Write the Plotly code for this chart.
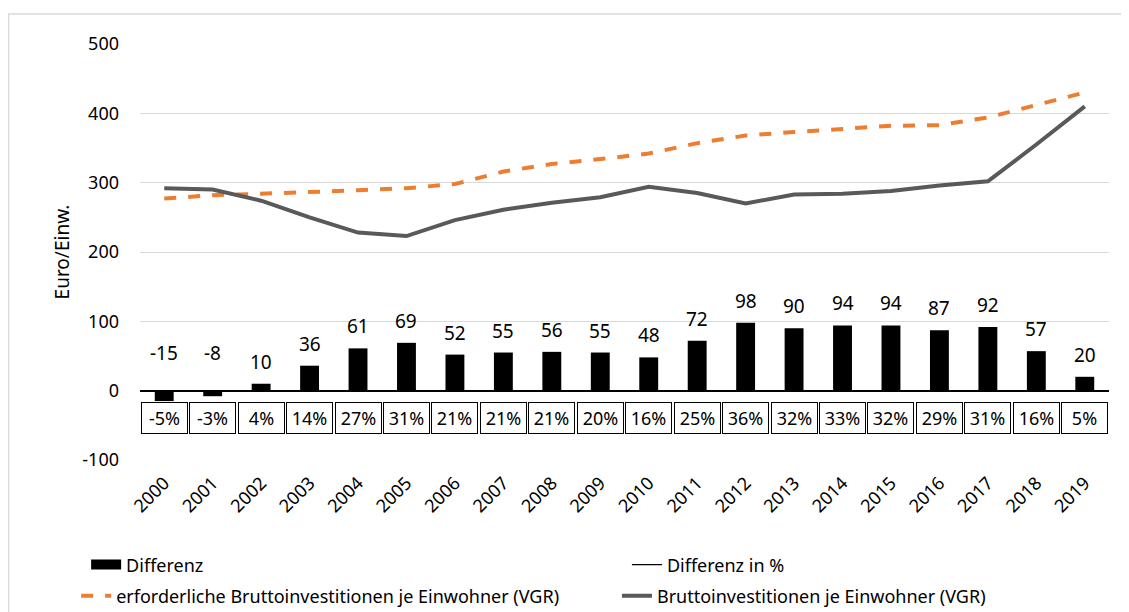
import plotly.graph_objects as go

years = [str(y) for y in range(2000, 2020)]
brutto = [292, 290, 274, 250, 228, 223, 246, 261, 271, 279, 294, 285, 270, 283, 284, 288, 296, 302, 355, 410]
erforderlich = [277, 282, 284, 286, 289, 292, 298, 316, 327, 334, 342, 357, 368, 373, 378, 382, 383, 394, 412, 430]
differenz = [-15, -8, 10, 36, 61, 69, 52, 55, 56, 55, 48, 72, 98, 90, 94, 94, 87, 92, 57, 20]
differenz_pct = ["-5%", "-3%", "4%", "14%", "27%", "31%", "21%", "21%", "21%", "20%", "16%", "25%",
                 "36%", "32%", "33%", "32%", "29%", "31%", "16%", "5%"]
y_ticks = [-100, 0, 100, 200, 300, 400, 500]
y_tick_labels = ["-100", "0", "100", "200", "300", "400", "500"]

FONT = "Noto Sans, Open Sans, sans-serif"
PCT_ROW_Y = -40

fig = go.Figure()
fig.add_trace(go.Bar(x=years, y=differenz, name="Differenz", marker=dict(color="black", line=dict(width=0)),
                     width=0.39, showlegend=False))
fig.add_trace(go.Scatter(x=[None], y=[None], mode="lines", name="Differenz",
                         line=dict(color="black", width=13), legend="legend"))
fig.add_trace(go.Scatter(x=[None], y=[None], mode="lines", name="Differenz in %",
                         line=dict(color="black", width=1.3), legend="legend2"))
fig.add_trace(go.Scatter(x=years, y=erforderlich, mode="lines",
                         name="erforderliche Bruttoinvestitionen je Einwohner (VGR)",
                         line=dict(color="#ED7D31", width=4, dash="dash"), legend="legend3"))
fig.add_trace(go.Scatter(x=years, y=brutto, mode="lines", name="Bruttoinvestitionen je Einwohner (VGR)",
                         line=dict(color="#595959", width=4), legend="legend4"))

annotations = []
for i, v in enumerate(differenz):
    annotations.append(dict(x=i, y=max(v, 0), text=str(v), showarrow=False,
                            yshift=22 if v >= 0 else 38,
                            font=dict(size=19, color="#000000", family=FONT)))
for i, p in enumerate(differenz_pct):
    annotations.append(dict(x=i, y=PCT_ROW_Y, text=p, showarrow=False, width=43, height=28,
                            bordercolor="#000000", borderwidth=1, borderpad=1, bgcolor="white",
                            font=dict(size=18, color="#000000", family=FONT)))

def leg(x, y):
    return dict(orientation="h", x=x, xanchor="left", y=y, yanchor="middle",
                font=dict(size=18, family=FONT, color="#000000"), bgcolor="rgba(0,0,0,0)")

fig.update_layout(
    width=1129, height=612,
    margin=dict(l=132, r=28, t=36, b=160, autoexpand=False),
    paper_bgcolor="white", plot_bgcolor="white",
    font=dict(family=FONT, size=18, color="#000000"),
    annotations=annotations,
    showlegend=True,
    legend=leg(-0.0556, -0.252),
    legend2=leg(0.5025, -0.252),
    legend3=leg(-0.0659, -0.327),
    legend4=leg(0.4922, -0.327),
    shapes=[dict(type="rect", xref="paper", yref="paper", x0=-0.1357, x1=1.0134, y0=-0.385, y1=1.0721,
                 line=dict(color="#D9D9D9", width=1.5), layer="below")],
)
fig.update_xaxes(type="category", range=[-0.5, len(years) - 0.5], tickangle=-45, showgrid=False,
                 showline=False, ticks="", tickfont=dict(size=18, family=FONT), ticklabelstandoff=8)
fig.update_yaxes(range=[-100, 500], tickmode="array", tickvals=y_ticks, ticktext=y_tick_labels,
                 showgrid=True, gridcolor="#D9D9D9", gridwidth=1,
                 zeroline=True, zerolinecolor="#000000", zerolinewidth=1.5, showline=False,
                 tickfont=dict(size=18, family=FONT), ticklabelstandoff=20,
                 title=dict(text="Euro/Einw.", font=dict(size=19, family=FONT), standoff=7))

fig.write_html("out.html")
